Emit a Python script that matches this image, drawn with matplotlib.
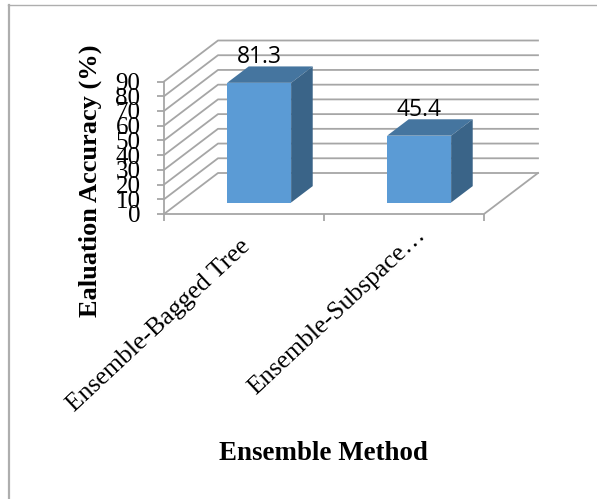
import matplotlib
matplotlib.use("Agg")
import matplotlib.pyplot as plt
from matplotlib.patches import Polygon
from matplotlib.lines import Line2D

# values
categories = ["Ensemble-Bagged Tree", "Ensemble-Subspace\u2026"]
accuracy = [81.3, 45.4]
y_ticks = [0, 10, 20, 30, 40, 50, 60, 70, 80, 90]

W, H = 597, 499
GRID = "#a6a6a6"
FRONT = "#5b9bd5"
TOP = "#45759f"
SIDE = "#3a6488"

# depth of the floor in data units (category units, value units)
DEPTH_X = 54 / 160
DEPTH_Y = 41 / (132.5 / 90)
BAR_W = 0.40
BAR_START = 0.28  # bar front, as share of the depth
BAR_DEPTH = 0.40  # bar depth, as share of the depth

plt.rcParams["font.family"] = ["Liberation Serif", "DejaVu Serif"]
fig = plt.figure(figsize=(W / 100, H / 100), dpi=100)
ax = fig.add_axes([164 / W, 1 - 214 / H, 320 / W, 132.5 / H])
ax.set_xlim(0, 2)
ax.set_ylim(0, 90)
ax.patch.set_visible(False)
for s in ax.spines.values():
    s.set_visible(False)

# page frame, top and left only
fig.add_artist(Line2D([8.5 / W, 8.5 / W], [0, 1 - 5 / H], color="#aeaeae", lw=1.6))
fig.add_artist(Line2D([8 / W, 1], [1 - 5 / H, 1 - 5 / H], color="#aeaeae", lw=1))

# gridlines: back wall plus the slanted part on the side wall
for v in y_ticks:
    ax.plot([0, DEPTH_X, 2 + DEPTH_X], [v, v + DEPTH_Y, v + DEPTH_Y],
            color=GRID, lw=1.3, clip_on=False, zorder=1)
ax.plot([0, 0], [0, 90], color=GRID, lw=1.3, clip_on=False, zorder=1)
ax.plot([0, 2, 2 + DEPTH_X], [0, 0, DEPTH_Y], color=GRID, lw=1.3, clip_on=False, zorder=1)

# bars, each one built out of 3 faces
for i, val in enumerate(accuracy):
    x0 = i + 0.5 - BAR_W / 2 + BAR_START * DEPTH_X
    x1 = x0 + BAR_W
    y0 = BAR_START * DEPTH_Y
    y1 = y0 + val
    dx = BAR_DEPTH * DEPTH_X
    dy = BAR_DEPTH * DEPTH_Y
    ax.add_patch(Polygon([(x0, y0), (x1, y0), (x1, y1), (x0, y1)], fc=FRONT, ec="none",
                         clip_on=False, zorder=3))
    ax.add_patch(Polygon([(x0, y1), (x1, y1), (x1 + dx, y1 + dy), (x0 + dx, y1 + dy)], fc=TOP,
                         ec="none", clip_on=False, zorder=3))
    ax.add_patch(Polygon([(x1, y0), (x1 + dx, y0 + dy), (x1 + dx, y1 + dy), (x1, y1)], fc=SIDE,
                         ec="none", clip_on=False, zorder=3))
    ax.annotate(f"{val}", (x0 + BAR_W / 2, y1 + dy), xytext=(0, -2),
                textcoords="offset points", ha="center", va="bottom", fontsize=16.5,
                family=["Open Sans", "DejaVu Sans"], color="black", zorder=4,
                annotation_clip=False)

ax.set_yticks(y_ticks)
ax.set_xticks([0, 1, 2])
ax.set_xticklabels([])
ax.tick_params(axis="y", length=5, width=1.3, color=GRID, labelsize=18, pad=12)
ax.tick_params(axis="x", length=5, width=1.3, color=GRID)

# category labels, right end anchored under the bar; the second one sits a bit further out
label_shift = [(-3, -15), (8, -7)]
for i, name in enumerate(categories):
    ax.annotate(name, (i + 0.5, 0), xytext=label_shift[i], textcoords="offset points",
                rotation=43, rotation_mode="anchor", ha="right", va="top", fontsize=18.5,
                annotation_clip=False)

fig.text(90 / W, 1 - 181 / H, "Ealuation Accuracy (%)", rotation=90, ha="center", va="center",
         fontsize=19, fontweight="bold")
fig.text(323 / W, 1 - 453 / H, "Ensemble Method", ha="center", va="center",
         fontsize=19.4, fontweight="bold")

fig.savefig("out.png", dpi=100)
